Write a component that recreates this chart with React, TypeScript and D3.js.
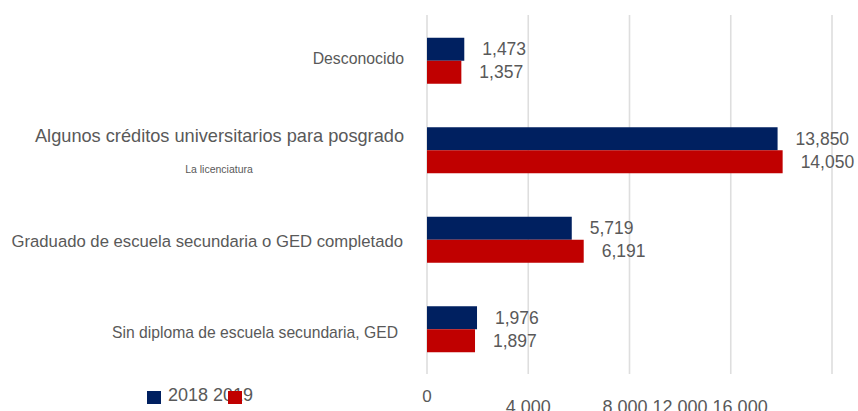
import React from "react";
import * as d3 from "d3";

const categories = [
  "Desconocido",
  "Algunos créditos universitarios para posgrado",
  "Graduado de escuela secundaria o GED completado",
  "Sin diploma de escuela secundaria, GED",
];
const subLabels = ["", "La licenciatura", "", ""];
const series = ["2018", "2019"];
const values2018 = [1473, 13850, 5719, 1976];
const values2019 = [1357, 14050, 6191, 1897];
const tickValues = [0, 4000, 8000, 12000, 16000];

const W = 858;
const H = 411;
const colors = ["#002060", "#C00000"];
const textColor = "#595959";
const font = "'Liberation Sans', Arial, sans-serif";

// per-category label style (font size, vertical offset from group centre, right edge)
const catStyle = [
  { fs: 15.8, dy: -2, right: 404 },
  { fs: 18.2, dy: -13, right: 404 },
  { fs: 16.7, dy: 2, right: 403 },
  { fs: 15.7, dy: 4, right: 398 },
];

export default function App() {
  const x = d3.scaleLinear().domain([0, 16000]).range([427, 832]);
  const y = d3
    .scaleBand<string>()
    .domain(categories)
    .range([16, 374])
    .paddingInner(0.486)
    .paddingOuter(0.243);
  const ySub = d3.scaleBand<string>().domain(series).range([0, y.bandwidth()]);
  const seriesValues = [values2018, values2019];
  const fmt = d3.format(",");

  return (
    <svg
      width={W}
      height={H}
      style={{ position: "absolute", left: 0, top: 0, fontFamily: font }}
    >
      <rect width={W} height={H} fill="#fff" />
      {tickValues.map((t) => (
        <line
          key={t}
          x1={x(t)}
          x2={x(t)}
          y1={15}
          y2={374}
          stroke="#dedede"
          strokeWidth={1.6}
        />
      ))}
      {categories.map((c, i) => {
        const g = y(c)!;
        return (
          <g key={c}>
            {series.map((s, si) => {
              const v = seriesValues[si][i];
              const by = g + ySub(s)!;
              return (
                <g key={s}>
                  <rect
                    x={x(0)}
                    y={by}
                    width={x(v) - x(0)}
                    height={ySub.bandwidth()}
                    fill={colors[si]}
                  />
                  <text
                    x={x(v) + 18}
                    y={by + ySub.bandwidth() / 2 + 6}
                    fontSize={17.5}
                    fill={textColor}
                  >
                    {fmt(v)}
                  </text>
                </g>
              );
            })}
            <text
              x={catStyle[i].right}
              y={g + y.bandwidth() / 2 + catStyle[i].dy + 5}
              textAnchor="end"
              fontSize={catStyle[i].fs}
              fill={textColor}
            >
              {c}
            </text>
            {subLabels[i] && (
              <text
                x={219}
                y={g + y.bandwidth() / 2 + 23}
                textAnchor="middle"
                fontSize={10.5}
                fill={textColor}
              >
                {subLabels[i]}
              </text>
            )}
          </g>
        );
      })}
      <text x={x(tickValues[0])} y={402} textAnchor="middle" fontSize={17} fill={textColor}>
        {fmt(tickValues[0])}
      </text>
      <text x={x(tickValues[1])} y={413} textAnchor="middle" fontSize={18} fill={textColor}>
        {fmt(tickValues[1])}
      </text>
      <text x={x(tickValues[2]) - 27} y={413} fontSize={18} fill={textColor}>
        {tickValues.slice(2).map((t) => fmt(t)).join(" ")}
      </text>
      <rect x={147} y={391} width={14} height={13} fill={colors[0]} />
      <text x={168} y={401} fontSize={18} fill={textColor}>
        {series.join(" ")}
      </text>
      <rect x={228} y={391} width={14} height={13} fill={colors[1]} />
    </svg>
  );
}
